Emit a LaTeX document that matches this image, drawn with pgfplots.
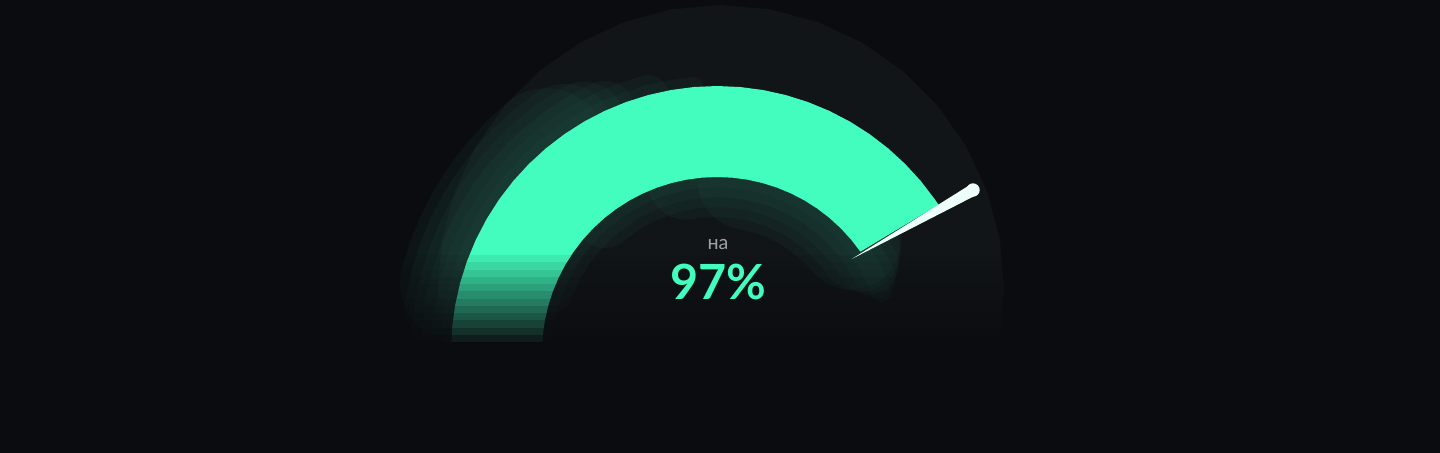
\documentclass[border=0pt]{standalone}
\usepackage{pgfplots}
\pgfplotsset{compat=1.18}
\usepackage{pgfplotstable}
\usepackage{fontspec}
\setmainfont{Lato}

\definecolor{bgc}{HTML}{0B0C0F}
\definecolor{discc}{HTML}{111518}
\definecolor{glowc}{HTML}{235C4B}
\definecolor{gaugec}{HTML}{42FDBE}
\definecolor{needlec}{HTML}{EEFFF9}
\definecolor{labelc}{HTML}{9CA3A3}

% ring radii (px units), angle in degrees
\pgfplotstableread{
a   ro  ri
180 266 175
175 266 175
170 266 175
165 266 175
160 266 175
155 266 175
150 266 175
145 266 175
140 266 175
135 266 175
130 266 175
125 266 175
120 266 175
115 266 175
110 266 175
105 266 175
100 266 175
95  266 175
90  266 175
85  266 175
80  266 175
75  266 175
70  266 175
65  266 175
60  266 175
55  266 175
50  266 175
45  266 175
40  266 175
35  266 175
30  266 175
25  266 175
20  266 175
}\ring

\pgfplotsset{glow/.style={glowc, opacity=0.12, line width=#1, line cap=round, line join=round, data cs=polar}}

\begin{document}
\begin{tikzpicture}
\fill[bgc] (0,0) rectangle (14.4,4.52);
\begin{axis}[
  at={(0,0)}, anchor=south west,
  width=14.4cm, height=4.52cm, scale only axis,
  hide axis,
  xmin=-717, xmax=723, ymin=-100, ymax=352,
]
% faint disc behind the gauge
\addplot[fill=discc, draw=none, data cs=polar, xshift=0.4mm, yshift=6.4mm] coordinates {
  (0,283) (10,283) (20,283) (30,283) (40,283) (50,283) (60,283) (70,283) (80,283)
  (90,283) (100,283) (110,283) (120,283) (130,283) (140,283) (150,283) (160,283) (170,283)
  (180,283) (190,283) (200,283) (210,283) (220,283) (230,283) (240,283) (250,283) (260,283)
  (270,283) (280,283) (290,283) (300,283) (310,283) (320,283) (330,283) (340,283) (350,283)};

% glow outside (left)
\addplot[glow=12mm, skip coords between index={0}{3}, skip coords between index={11}{40}] table[x=a, y=ro] {\ring};
\addplot[glow=10mm, skip coords between index={0}{2}, skip coords between index={12}{40}] table[x=a, y=ro] {\ring};
\addplot[glow=8mm, skip coords between index={0}{1}, skip coords between index={13}{40}] table[x=a, y=ro] {\ring};
\addplot[glow=6mm, skip coords between index={14}{40}] table[x=a, y=ro] {\ring};
\addplot[glow=4mm, skip coords between index={16}{40}] table[x=a, y=ro] {\ring};
\addplot[glow=2mm, skip coords between index={18}{40}] table[x=a, y=ro] {\ring};
% glow inside
\addplot[glow=2mm] table[x=a, y=ri] {\ring};
\addplot[glow=4mm, skip coords between index={0}{4}, skip coords between index={32}{40}] table[x=a, y=ri] {\ring};
\addplot[glow=6mm, skip coords between index={0}{10}, skip coords between index={31}{40}] table[x=a, y=ri] {\ring};
\addplot[glow=8mm, skip coords between index={0}{16}, skip coords between index={30}{40}] table[x=a, y=ri] {\ring};
\addplot[glow=10mm, skip coords between index={0}{20}, skip coords between index={29}{40}] table[x=a, y=ri] {\ring};

% gauge band
\addplot[fill=gaugec, draw=none, data cs=polar] coordinates {
  (180,266) (175,266) (170,266) (165,266) (160,266) (155,266) (150,266) (145,266)
  (140,266) (135,266) (130,266) (125,266) (120,266) (115,266) (110,266) (105,266)
  (100,266) (95,266) (90,266) (85,266) (80,266) (75,266) (70,266) (65,266)
  (60,266) (55,266) (50,266) (45,266) (40,266) (35,266) (33.6,266)
  (35,175) (40,175) (45,175) (50,175) (55,175) (60,175) (65,175) (70,175)
  (75,175) (80,175) (85,175) (90,175) (95,175) (100,175) (105,175) (110,175)
  (115,175) (120,175) (125,175) (130,175) (135,175) (140,175) (145,175) (150,175)
  (155,175) (160,175) (165,175) (170,175) (175,175) (180,175)};

% fade towards the bottom
\fill[bgc, opacity=0.077] (axis cs:-717,97) rectangle (axis cs:723,89.75);
\fill[bgc, opacity=0.154] (axis cs:-717,89.75) rectangle (axis cs:723,82.5);
\fill[bgc, opacity=0.231] (axis cs:-717,82.5) rectangle (axis cs:723,75.25);
\fill[bgc, opacity=0.308] (axis cs:-717,75.25) rectangle (axis cs:723,68);
\fill[bgc, opacity=0.385] (axis cs:-717,68) rectangle (axis cs:723,60.75);
\fill[bgc, opacity=0.462] (axis cs:-717,60.75) rectangle (axis cs:723,53.5);
\fill[bgc, opacity=0.538] (axis cs:-717,53.5) rectangle (axis cs:723,46.25);
\fill[bgc, opacity=0.615] (axis cs:-717,46.25) rectangle (axis cs:723,39);
\fill[bgc, opacity=0.692] (axis cs:-717,39) rectangle (axis cs:723,31.75);
\fill[bgc, opacity=0.769] (axis cs:-717,31.75) rectangle (axis cs:723,24.5);
\fill[bgc, opacity=0.846] (axis cs:-717,24.5) rectangle (axis cs:723,17.25);
\fill[bgc, opacity=0.923] (axis cs:-717,17.25) rectangle (axis cs:723,10);
\fill[bgc] (axis cs:-717,10) rectangle (axis cs:723,-120);

% needle
\addplot[fill=needlec, draw=none] coordinates {(134.7,93) (253.0,167.2) (259.0,156.8)};
\addplot[only marks, mark=*, mark size=1.7pt, needlec] coordinates {(256,162)};

% value
\node[text=labelc, font=\fontsize{5.6}{7}\selectfont] at (axis cs:1,108) {на};
\node[text=gaugec, font=\bfseries\fontsize{13.8}{16}\selectfont] at (axis cs:1.5,70.5) {97\%};
\end{axis}
\pgfresetboundingbox
\useasboundingbox (0,0) rectangle (14.4,4.52);
\end{tikzpicture}
\end{document}
